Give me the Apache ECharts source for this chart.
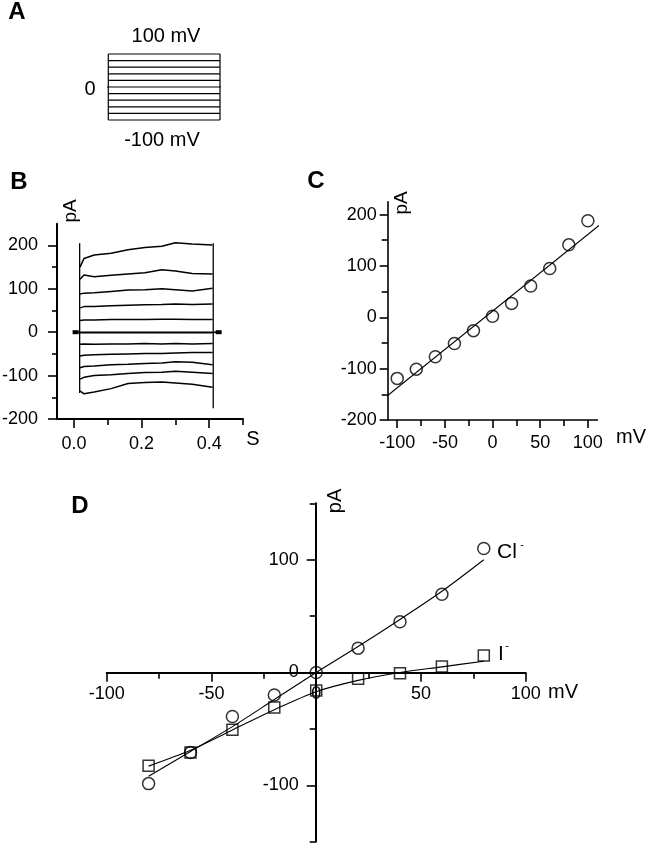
<!DOCTYPE html>
<html><head><meta charset="utf-8">
<script src="https://cdn.jsdelivr.net/npm/echarts@6/dist/echarts.min.js"></script>
<style>html,body{margin:0;padding:0;background:#fff}#c{width:648px;height:844px}</style>
</head><body><div id="c"></div>
<script>
// ---------- Panel A: voltage steps (mV)
const stepLevels = [-100, -80, -60, -40, -20, 0, 20, 40, 60, 80, 100];

// ---------- Panel B: current traces (pA) vs time (s)
const traceTimes = [0.018, 0.03, 0.06, 0.11, 0.16, 0.21, 0.26, 0.30, 0.35, 0.41];
const trace100 = [150, 170, 178, 182, 190, 195, 198, 206, 203, 201];
const trace80  = [122, 132, 128, 131, 134, 137, 144, 141, 135, 134];
const trace60  = [88, 90, 91, 94, 97, 98, 100, 98, 95, 101];
const trace40  = [56, 59, 59, 61, 62, 63, 64, 65, 64, 65];
const trace20  = [27, 28, 28, 29, 29, 29, 30, 30, 29, 29];
const trace0   = [-1, -1, -1, -1, -1, -1, -1, -1, -1, -1];
const traceM20 = [-28, -27, -28, -27, -27, -26, -27, -26, -27, -26];
const traceM40 = [-55, -53, -52, -51, -50, -49, -49, -48, -47, -47];
const traceM60 = [-82, -79, -78, -75, -74, -72, -71, -68, -69, -75];
const traceM80 = [-108, -104, -100, -98, -95, -93, -92, -90, -92, -95];
const traceM100 = [-135, -142, -138, -130, -118, -116, -115, -117, -120, -127];
const onsetLine = [[0.017, 205], [0.017, -140]];
const offsetLine = [[0.412, 205], [0.412, -175]];
const holdLine = [[0.005, 0], [0.428, 0]];
const bXTicksMajor = [0, 0.2, 0.4];
const bXTicksMinor = [0.1, 0.3, 0.5];
const bYTicksMajor = [-200, -100, 0, 100, 200];
const bYTicksMinor = [-150, -50, 50, 150];

// ---------- Panel C: I-V (pA vs mV)
const cVolt = [-100, -80, -60, -40, -20, 0, 20, 40, 60, 80, 100];
const cCurr = [-119, -101, -77, -51, -26, 2, 27, 61, 95, 141, 188];
const cFit = [[-120, -167], [120, 191]];
const cXTicksMajor = [-100, -50, 0, 50, 100];
const cXTicksMinor = [-75, -25, 25, 75];
const cYTicksMajor = [-200, -100, 0, 100, 200];
const cYTicksMinor = [-150, -50, 50, 150];

// ---------- Panel D: Cl- and I- I-V
const dVolt = [-80, -60, -40, -20, 0, 20, 40, 60, 80];
const dCl = [-98.5, -71, -39, -20, 0, 21.6, 45, 69.4, 110];
const dI  = [-82.6, -71, -50.7, -31, -16, -5.6, -0.6, 5.3, 15];
const dClFit = [-92, -70, -48, -24, 0, 23, 47, 72, 100];
const dIFit  = [-83, -69, -51, -33, -17, -7, 0, 5, 10];
const dXTicksMajor = [-100, -50, 0, 50, 100];
const dXTicksMinor = [-75, -25, 25, 75];
const dYTicksMajor = [-100, 0, 100];
const dYTicksMinor = [-150, -50, 50, 150];

const FONT = '"Liberation Sans", Arial, Helvetica, sans-serif';
const K = '#000';

function makeAxes(grid, c) {
  const base = { type: 'value', gridIndex: grid, min: c.min, max: c.max, position: c.position, splitLine: { show: false } };
  const major = Object.assign({}, base, {
    axisLine: { show: true, onZero: false, lineStyle: { color: K, width: c.lineWidth || 2 } },
    axisTick: { show: true, customValues: c.major, length: c.majorLen, lineStyle: { color: K, width: 1.6 } },
    axisLabel: { show: true, customValues: c.labels || c.major, margin: c.margin, color: K, fontSize: 18, fontFamily: FONT, formatter: c.formatter }
  });
  const minor = Object.assign({}, base, {
    axisLine: { show: false, onZero: false },
    axisTick: { show: true, customValues: c.minor, length: c.minorLen, lineStyle: { color: K, width: 1.6 } },
    axisLabel: { show: false }
  });
  return [major, minor];
}
function hidden(grid, min, max) { return { type: 'value', gridIndex: grid, min: min, max: max, show: false }; }

const xAxes = [], yAxes = [];
// A (hidden)  x0 / y0
xAxes.push(hidden(0, 0, 1));
yAxes.push(hidden(0, -100, 100));
// B  x1,x2 / y1,y2
xAxes.push(...makeAxes(1, { min: -0.05, max: 0.5, position: 'bottom', major: bXTicksMajor, minor: bXTicksMinor, majorLen: 9, minorLen: 6, margin: 16, formatter: v => v.toFixed(1) }));
yAxes.push(...makeAxes(1, { min: -200, max: 250, position: 'left', major: bYTicksMajor, minor: bYTicksMinor, majorLen: 9, minorLen: 5, margin: 19 }));
// C  x3,x4 / y3,y4
xAxes.push(...makeAxes(2, { min: -110, max: 110, position: 'bottom', major: cXTicksMajor, minor: cXTicksMinor, majorLen: 8, minorLen: 6, margin: 14, lineWidth: 1.6 }));
yAxes.push(...makeAxes(2, { min: -200, max: 225, position: 'left', major: cYTicksMajor, minor: cYTicksMinor, majorLen: 8, minorLen: 6, margin: 11, lineWidth: 1.6 }));
// D data grid (hidden axes) x5 / y5
xAxes.push(hidden(3, -100, 100));
yAxes.push(hidden(3, -150, 150));
// D horizontal axis carrier grid 4: x6,x7 / y6 hidden
xAxes.push(...makeAxes(4, { min: -100, max: 100, position: 'bottom', major: dXTicksMajor, minor: dXTicksMinor, majorLen: 9, minorLen: 6, margin: 12 }));
yAxes.push(hidden(4, 0, 1));
// D vertical axis carrier grid 5: x8 hidden / y7,y8
xAxes.push(hidden(5, 0, 1));
yAxes.push(...makeAxes(5, { min: -150, max: 150, position: 'left', major: dYTicksMajor, minor: dYTicksMinor, majorLen: 9, minorLen: 6, margin: 17 }));

const series = [];
function lineS(xi, yi, data, w, extra) {
  return Object.assign({ type: 'line', xAxisIndex: xi, yAxisIndex: yi, data: data, symbol: 'none', silent: true,
    lineStyle: { color: K, width: w }, clip: false }, extra || {});
}
// A
const lo = Math.min(...stepLevels), hi = Math.max(...stepLevels);
stepLevels.forEach(v => {
  if (v === 0) series.push(lineS(0, 0, [[-0.03, 0], [1.035, 0]], 1));
  else series.push(lineS(0, 0, [[0, v], [1, v]], 1.2));
});
series.push(lineS(0, 0, [[0, lo], [0, hi]], 1.2));
series.push(lineS(0, 0, [[1, lo], [1, hi]], 1.2));
// B
[trace100, trace80, trace60, trace40, trace20, trace0, traceM20, traceM40, traceM60, traceM80, traceM100].forEach(tr => {
  series.push(lineS(1, 1, traceTimes.map((t, i) => [t, tr[i]]), 1.5));
});
series.push(lineS(1, 1, onsetLine, 1.3));
series.push(lineS(1, 1, offsetLine, 1.3));
series.push(lineS(1, 1, holdLine, 1.5, { symbol: 'rect', symbolSize: [6, 4], showSymbol: true, itemStyle: { color: K } }));
// C
series.push(lineS(3, 3, cFit, 1.2));
series.push({ type: 'scatter', xAxisIndex: 3, yAxisIndex: 3, data: cVolt.map((v, i) => [v, cCurr[i]]), symbol: 'circle', symbolSize: 12,
  itemStyle: { color: 'rgba(0,0,0,0)', borderColor: K, borderWidth: 1.5 }, silent: true });
// D
series.push(lineS(5, 5, dVolt.map((v, i) => [v, dClFit[i]]), 1.1, { smooth: 0.3 }));
series.push(lineS(5, 5, dVolt.map((v, i) => [v, dIFit[i]]), 1.1, { smooth: 0.3 }));
series.push({ type: 'scatter', xAxisIndex: 5, yAxisIndex: 5, data: dVolt.map((v, i) => [v, dCl[i]]), symbol: 'circle', symbolSize: 12,
  itemStyle: { color: 'rgba(0,0,0,0)', borderColor: K, borderWidth: 1.5 }, silent: true, z: 5 });
series.push({ type: 'scatter', xAxisIndex: 5, yAxisIndex: 5, data: dVolt.map((v, i) => [v, dI[i]]), symbol: 'rect', symbolSize: 11,
  itemStyle: { color: 'rgba(0,0,0,0)', borderColor: K, borderWidth: 1.5 }, silent: true, z: 5 });

function txt(x, y, text, size, opts) {
  opts = opts || {};
  return { type: 'text', x: x, y: y, rotation: opts.rot || 0, silent: true,
    style: { text: text, fill: K, font: (opts.bold ? 'bold ' : '') + size + 'px ' + FONT, align: opts.align || 'center', verticalAlign: 'middle' } };
}
const graphics = [
  txt(17, 12, 'A', 24, { bold: true }),
  txt(166, 36, '100 mV', 20),
  txt(162, 140, '-100 mV', 20),
  txt(90, 89, '0', 20),
  txt(19, 182, 'B', 24, { bold: true }),
  txt(71, 211, 'pA', 19, { rot: Math.PI / 2 }),
  txt(253, 439, 'S', 20),
  txt(316, 181, 'C', 24, { bold: true }),
  txt(402, 203, 'pA', 19, { rot: Math.PI / 2 }),
  txt(631, 437, 'mV', 20),
  txt(80, 506, 'D', 24, { bold: true }),
  txt(335, 501, 'pA', 20, { rot: Math.PI / 2 }),
  txt(563, 692, 'mV', 20),
  txt(497, 552, 'Cl', 21, { align: 'left' }),
  txt(522, 545, '-', 11),
  txt(498, 654, 'I', 21, { align: 'left' }),
  txt(507, 646, '-', 11)
];

const chart = echarts.init(document.getElementById('c'));
chart.setOption({
  animation: false,
  backgroundColor: '#fff',
  grid: [
    { left: 108.3, top: 54, width: 111.7, height: 66, outerBoundsMode: 'none' },
    { left: 57, top: 223.7, width: 186, height: 195.3, outerBoundsMode: 'none' },
    { left: 387.7, top: 201.7, width: 209.7, height: 218.3, outerBoundsMode: 'none' },
    { left: 106.7, top: 503.3, width: 419, height: 338.4, outerBoundsMode: 'none' },
    { left: 106.7, top: 503.3, width: 419, height: 169.4, outerBoundsMode: 'none' },
    { left: 315.7, top: 503.3, width: 209.5, height: 338.4, outerBoundsMode: 'none' }
  ],
  xAxis: xAxes,
  yAxis: yAxes,
  series: series,
  graphic: graphics
});
</script>
</body></html>
